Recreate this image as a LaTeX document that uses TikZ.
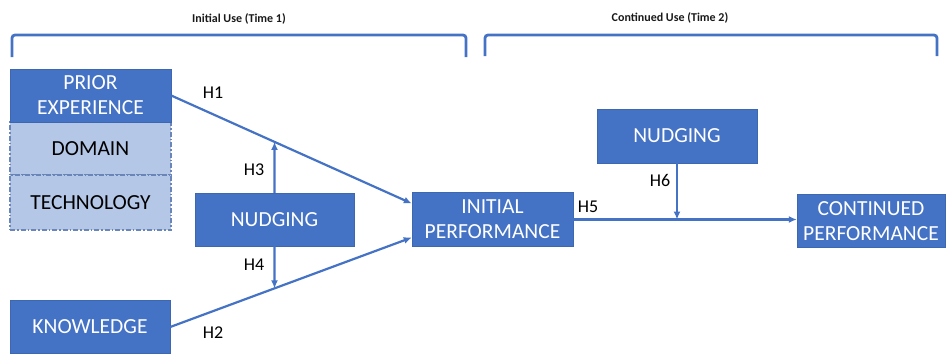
\documentclass[tikz,border=0pt]{standalone}
\usepackage{fontspec}
\setmainfont{Carlito}
\usetikzlibrary{arrows.meta,calc}
\definecolor{obl}{HTML}{4472C4}
\definecolor{lbl}{HTML}{B4C7E7}
\definecolor{dbd}{HTML}{6A86B8}
\begin{document}
\begin{tikzpicture}[x=1pt,y=-1pt,
  darkbox/.style={rectangle,fill=obl,draw=obl!90!black,line width=0.4pt,text=white,align=center,inner sep=0pt,font=\fontsize{21.5}{25}\selectfont},
  lightbox/.style={rectangle,fill=lbl,draw=dbd,dash pattern=on 5pt off 2pt on 1.5pt off 2pt,line width=1.2pt,text=black,align=center,inner sep=0pt,font=\fontsize{21.5}{25}\selectfont},
  conn/.style={draw=obl,line width=2.2pt,-{Latex[length=8pt,width=7pt]}},
  hlabel/.style={font=\fontsize{18}{20}\selectfont,text=black,inner sep=0pt},
  title/.style={font=\bfseries\fontsize{12}{14}\selectfont,text=black!90,inner sep=0pt},
  brack/.style={draw=obl,line width=2.8pt,rounded corners=3pt}
]
\useasboundingbox (0,0) rectangle (948,354);
% titles and brackets
\node[title] (t1) at (239,19) {Initial Use (Time 1)};
\node[title] (t2) at (670,18) {Continued Use (Time 2)};
\coordinate (b1a) at (12,57);
\coordinate (b1b) at (466,57);
\coordinate (b2a) at (485,56);
\coordinate (b2b) at (937,56);
\draw[brack] (b1a) -- (b1a |- 0,35) -- (b1b |- 0,35) -- (b1b);
\draw[brack] (b2a) -- (b2a |- 0,35) -- (b2b |- 0,35) -- (b2b);
% boxes
\node[lightbox,minimum width=161pt,minimum height=53pt] (dom) at (90.5,148.5) {DOMAIN};
\node[lightbox,minimum width=161pt,minimum height=55pt] (tech) at (90.5,202.5) {TECHNOLOGY};
\node[darkbox,minimum width=161pt,minimum height=53pt] (prior) at (90.5,95.5) {PRIOR\\EXPERIENCE};
\node[darkbox,minimum width=159pt,minimum height=53pt] (nudge1) at (274.5,219.5) {NUDGING};
\node[darkbox,minimum width=160pt,minimum height=53pt] (know) at (90,327) {KNOWLEDGE};
\node[darkbox,minimum width=161pt,minimum height=54pt] (init) at (492.5,219.5) {INITIAL\\PERFORMANCE};
\node[darkbox,minimum width=160pt,minimum height=54pt] (nudge2) at (677,136) {NUDGING};
\node[darkbox,minimum width=148pt,minimum height=53pt] (cont) at (871,221) {CONTINUED\\PERFORMANCE};
% connectors
\coordinate (i1) at ([yshift=16pt]init.west);
\coordinate (i2) at ([yshift=-18pt]init.west);
\draw[conn] (prior.east) -- (i1);
\draw[conn] (know.east) -- (i2);
\coordinate (m1) at (intersection of prior.east--i1 and nudge1.north--nudge1.center);
\coordinate (m2) at (intersection of know.east--i2 and nudge1.south--nudge1.center);
\draw[conn] (nudge1.north) -- (m1);
\draw[conn] (nudge1.south) -- (m2);
\draw[conn] (init.east) -- (init.east -| cont.west);
\coordinate (m3) at (nudge2.south |- init.east);
\draw[conn] (nudge2.south) -- (m3);
% labels
\node[hlabel] (h1) at (213,93) {H1};
\node[hlabel] (h2) at (213,333) {H2};
\node[hlabel] (h3) at (254,170) {H3};
\node[hlabel] (h4) at (254,265) {H4};
\node[hlabel] (h5) at (588,207) {H5};
\node[hlabel] (h6) at (660,180) {H6};
\end{tikzpicture}
\end{document}
